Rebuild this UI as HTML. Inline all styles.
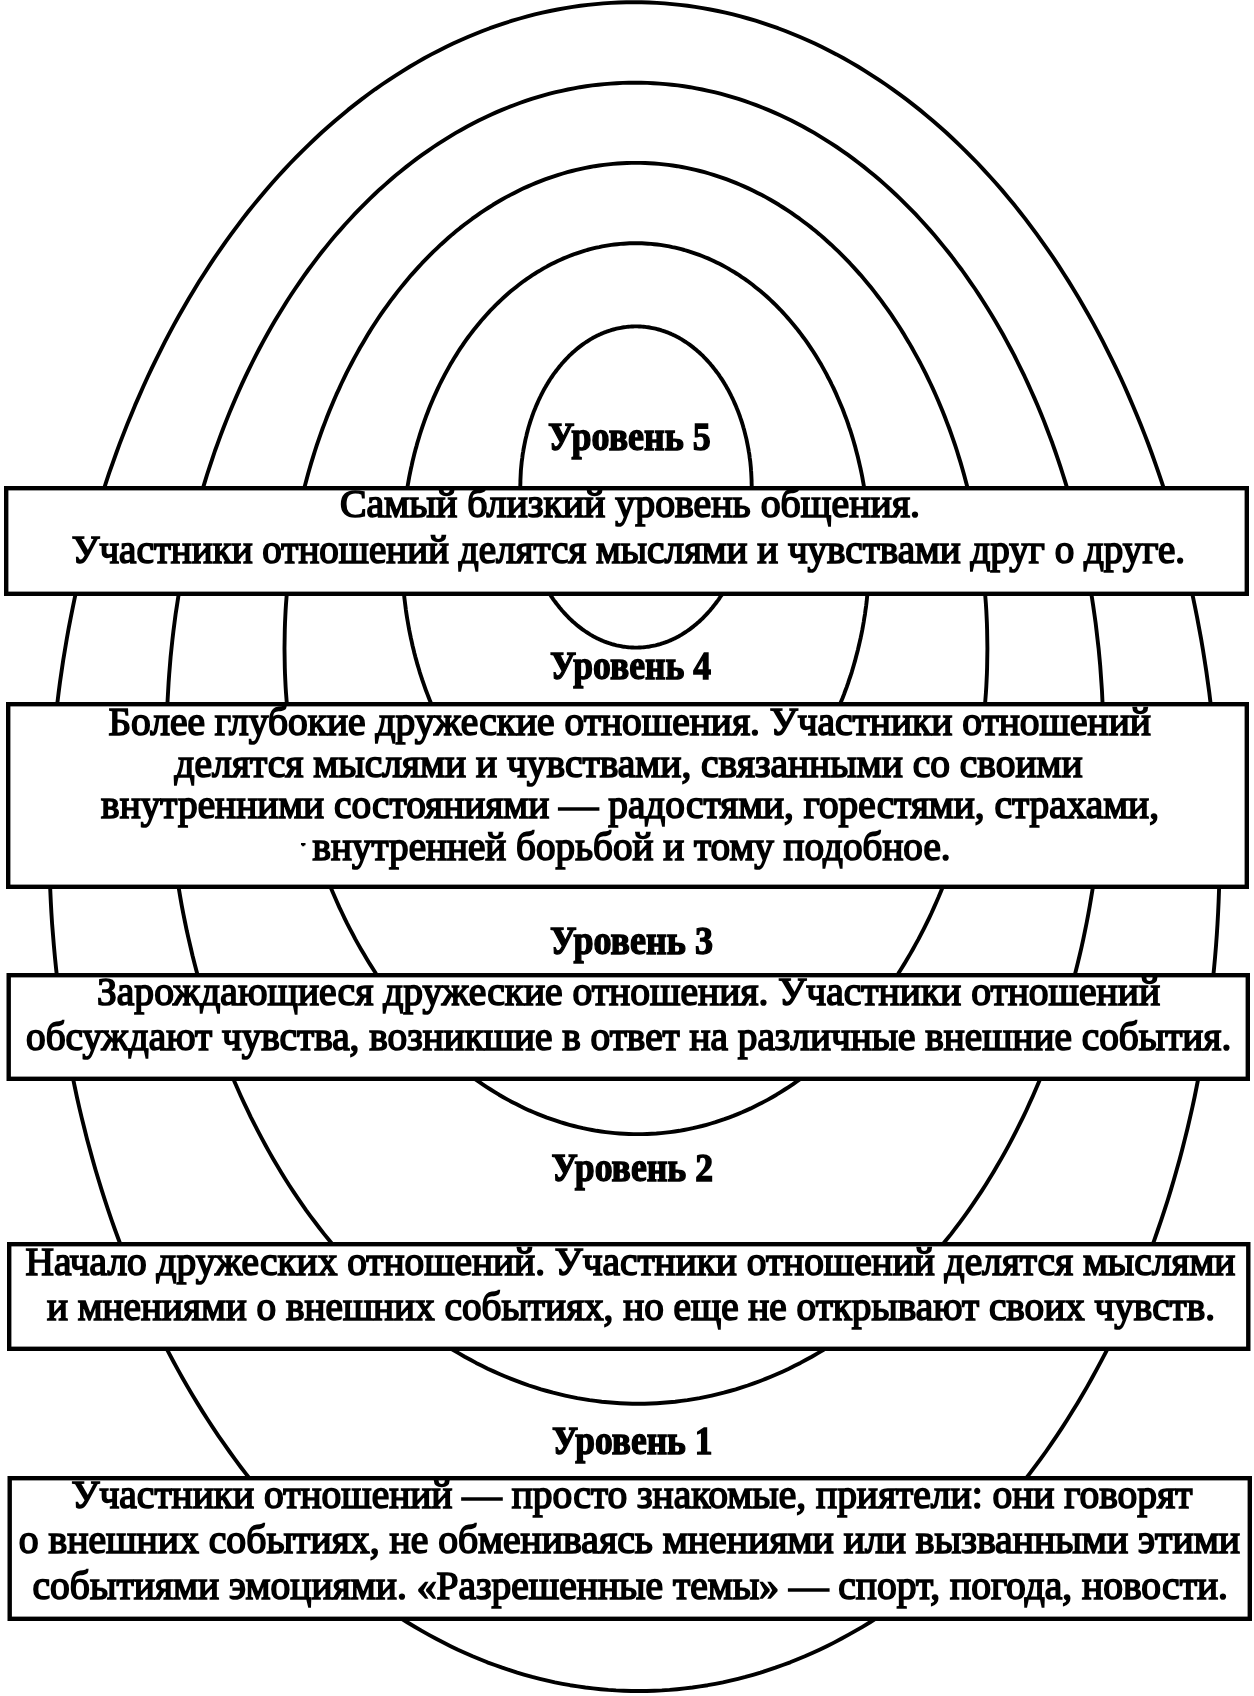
<!DOCTYPE html><html><head><meta charset="utf-8"><style>html,body{margin:0;padding:0;background:#fff;width:1254px;height:1696px;overflow:hidden}svg{display:block;will-change:transform}text{font-family:"Liberation Serif",serif;fill:#000}.r{font-size:40px;stroke:#000;stroke-width:1.7px}.b{font-size:40px;font-weight:bold;stroke:#000;stroke-width:1.4px}</style></head><body>
<svg width="1254" height="1696" viewBox="0 0 1254 1696">
<path d="M1219.5 846.6 L1219.6 857.7 L1219.5 868.7 L1219.3 879.8 L1219.0 890.8 L1218.6 901.9 L1218.1 912.9 L1217.5 923.9 L1216.8 934.9 L1216.0 945.9 L1215.1 956.9 L1214.1 967.8 L1213.0 978.7 L1211.9 989.6 L1210.6 1000.5 L1209.2 1011.4 L1207.7 1022.2 L1206.1 1033.0 L1204.4 1043.8 L1202.7 1054.5 L1200.8 1065.2 L1198.8 1075.8 L1196.7 1086.5 L1194.6 1097.0 L1192.3 1107.6 L1189.9 1118.1 L1187.5 1128.5 L1184.9 1138.9 L1182.3 1149.2 L1179.6 1159.5 L1176.7 1169.8 L1173.8 1180.0 L1170.8 1190.1 L1167.7 1200.2 L1164.5 1210.2 L1161.2 1220.1 L1157.8 1230.0 L1154.4 1239.8 L1150.8 1249.5 L1147.2 1259.2 L1143.4 1268.8 L1139.6 1278.4 L1135.7 1287.8 L1131.7 1297.2 L1127.6 1306.5 L1123.4 1315.8 L1119.2 1324.9 L1114.9 1334.0 L1110.5 1343.0 L1106.0 1351.9 L1101.4 1360.7 L1096.7 1369.4 L1092.0 1378.0 L1087.2 1386.6 L1082.3 1395.0 L1077.3 1403.4 L1072.3 1411.6 L1067.2 1419.8 L1062.0 1427.9 L1056.7 1435.8 L1051.4 1443.7 L1046.0 1451.5 L1040.5 1459.1 L1034.9 1466.7 L1029.3 1474.1 L1023.6 1481.5 L1017.9 1488.7 L1012.1 1495.8 L1006.2 1502.9 L1000.2 1509.8 L994.2 1516.5 L988.1 1523.2 L982.0 1529.8 L975.8 1536.2 L969.6 1542.5 L963.3 1548.7 L956.9 1554.8 L950.5 1560.8 L944.0 1566.6 L937.5 1572.3 L930.9 1577.9 L924.3 1583.4 L917.6 1588.7 L910.9 1593.9 L904.1 1599.0 L897.3 1604.0 L890.4 1608.8 L883.5 1613.5 L876.5 1618.0 L869.6 1622.5 L862.5 1626.8 L855.4 1630.9 L848.3 1634.9 L841.2 1638.8 L834.0 1642.6 L826.8 1646.2 L819.5 1649.7 L812.3 1653.0 L804.9 1656.3 L797.6 1659.3 L790.2 1662.3 L782.8 1665.0 L775.4 1667.7 L768.0 1670.2 L760.5 1672.6 L753.0 1674.8 L745.5 1676.9 L738.0 1678.8 L730.4 1680.6 L722.9 1682.3 L715.3 1683.8 L707.7 1685.2 L700.1 1686.4 L692.5 1687.5 L684.8 1688.4 L677.2 1689.2 L669.6 1689.9 L661.9 1690.4 L654.3 1690.7 L646.6 1691.0 L638.9 1691.0 L631.3 1691.0 L623.6 1690.7 L616.0 1690.4 L608.3 1689.9 L600.7 1689.2 L593.0 1688.4 L585.4 1687.5 L577.8 1686.4 L570.1 1685.2 L562.5 1683.8 L554.9 1682.3 L547.4 1680.6 L539.8 1678.8 L532.2 1676.9 L524.7 1674.8 L517.2 1672.6 L509.7 1670.2 L502.2 1667.7 L494.8 1665.0 L487.3 1662.3 L479.9 1659.3 L472.6 1656.3 L465.2 1653.0 L457.9 1649.7 L450.6 1646.2 L443.4 1642.6 L436.1 1638.8 L428.9 1634.9 L421.8 1630.9 L414.7 1626.8 L407.6 1622.5 L400.6 1618.0 L393.6 1613.5 L386.6 1608.8 L379.7 1604.0 L372.8 1599.0 L366.0 1593.9 L359.2 1588.7 L352.5 1583.4 L345.8 1577.9 L339.1 1572.3 L332.5 1566.6 L326.0 1560.8 L319.5 1554.8 L313.1 1548.7 L306.7 1542.5 L300.4 1536.2 L294.1 1529.8 L287.9 1523.2 L281.8 1516.5 L275.7 1509.8 L269.7 1502.9 L263.7 1495.8 L257.8 1488.7 L252.0 1481.5 L246.2 1474.1 L240.5 1466.7 L234.9 1459.1 L229.4 1451.5 L223.9 1443.7 L218.4 1435.8 L213.1 1427.9 L207.8 1419.8 L202.6 1411.6 L197.5 1403.4 L192.4 1395.0 L187.4 1386.6 L182.5 1378.0 L177.7 1369.4 L173.0 1360.7 L168.3 1351.9 L163.7 1343.0 L159.2 1334.0 L154.8 1324.9 L150.4 1315.8 L146.1 1306.5 L142.0 1297.2 L137.9 1287.8 L133.9 1278.4 L129.9 1268.8 L126.1 1259.2 L122.3 1249.5 L118.7 1239.8 L115.1 1230.0 L111.6 1220.1 L108.2 1210.2 L104.9 1200.2 L101.7 1190.1 L98.6 1180.0 L95.5 1169.8 L92.6 1159.5 L89.8 1149.2 L87.0 1138.9 L84.4 1128.5 L81.8 1118.1 L79.3 1107.6 L76.9 1097.0 L74.7 1086.5 L72.5 1075.8 L70.4 1065.2 L68.4 1054.5 L66.5 1043.8 L64.7 1033.0 L63.0 1022.2 L61.4 1011.4 L59.9 1000.5 L58.5 989.6 L57.2 978.7 L56.0 967.8 L54.9 956.9 L53.9 945.9 L53.0 934.9 L52.1 923.9 L51.4 912.9 L50.8 901.9 L50.3 890.8 L49.9 879.8 L49.6 868.7 L49.4 857.7 L49.3 846.6 L49.3 835.6 L49.4 824.5 L49.5 813.5 L49.8 802.4 L50.2 791.4 L50.7 780.4 L51.3 769.4 L52.0 758.4 L52.9 747.4 L53.8 736.4 L54.9 725.5 L56.0 714.5 L57.3 703.6 L58.6 692.8 L60.0 681.9 L61.6 671.1 L63.2 660.3 L65.0 649.5 L66.8 638.8 L68.7 628.1 L70.8 617.4 L72.9 606.8 L75.1 596.2 L77.4 585.7 L79.9 575.2 L82.4 564.8 L85.0 554.4 L87.7 544.0 L90.5 533.7 L93.3 523.5 L96.3 513.3 L99.4 503.2 L102.6 493.1 L105.8 483.1 L109.1 473.2 L112.6 463.3 L116.1 453.5 L119.7 443.7 L123.4 434.1 L127.2 424.4 L131.1 414.9 L135.0 405.4 L139.1 396.1 L143.2 386.8 L147.4 377.5 L151.7 368.4 L156.1 359.3 L160.6 350.3 L165.1 341.4 L169.7 332.6 L174.4 323.9 L179.2 315.2 L184.1 306.7 L189.0 298.3 L194.0 289.9 L199.1 281.6 L204.3 273.5 L209.5 265.4 L214.8 257.4 L220.2 249.6 L225.6 241.8 L231.2 234.1 L236.8 226.6 L242.4 219.1 L248.1 211.8 L253.9 204.6 L259.8 197.4 L265.7 190.4 L271.7 183.5 L277.7 176.7 L283.8 170.1 L290.0 163.5 L296.2 157.1 L302.5 150.8 L308.9 144.6 L315.3 138.5 L321.7 132.5 L328.2 126.7 L334.8 121.0 L341.4 115.4 L348.0 109.9 L354.7 104.6 L361.5 99.4 L368.3 94.3 L375.1 89.3 L382.0 84.5 L389.0 79.8 L395.9 75.3 L403.0 70.8 L410.0 66.5 L417.1 62.4 L424.2 58.3 L431.4 54.4 L438.6 50.7 L445.9 47.1 L453.1 43.6 L460.4 40.2 L467.8 37.0 L475.1 34.0 L482.5 31.0 L489.9 28.2 L497.3 25.6 L504.8 23.1 L512.3 20.7 L519.8 18.5 L527.3 16.4 L534.8 14.4 L542.4 12.6 L550.0 11.0 L557.6 9.5 L565.2 8.1 L572.8 6.9 L580.4 5.8 L588.0 4.9 L595.7 4.1 L603.3 3.4 L611.0 2.9 L618.6 2.5 L626.3 2.3 L633.9 2.2 L641.6 2.3 L649.3 2.5 L656.9 2.9 L664.6 3.4 L672.2 4.1 L679.8 4.9 L687.5 5.8 L695.1 6.9 L702.7 8.1 L710.3 9.5 L717.9 11.0 L725.5 12.6 L733.0 14.4 L740.6 16.4 L748.1 18.5 L755.6 20.7 L763.1 23.1 L770.5 25.6 L778.0 28.2 L785.4 31.0 L792.8 34.0 L800.1 37.0 L807.5 40.2 L814.8 43.6 L822.0 47.1 L829.3 50.7 L836.5 54.4 L843.6 58.3 L850.8 62.4 L857.9 66.5 L864.9 70.8 L871.9 75.3 L878.9 79.8 L885.8 84.5 L892.7 89.3 L899.6 94.3 L906.4 99.4 L913.1 104.6 L919.8 109.9 L926.5 115.4 L933.1 121.0 L939.7 126.7 L946.2 132.5 L952.6 138.5 L959.0 144.6 L965.4 150.8 L971.6 157.1 L977.9 163.5 L984.0 170.1 L990.1 176.7 L996.2 183.5 L1002.2 190.4 L1008.1 197.4 L1014.0 204.6 L1019.7 211.8 L1025.5 219.1 L1031.1 226.6 L1036.7 234.1 L1042.2 241.8 L1047.7 249.6 L1053.1 257.4 L1058.4 265.4 L1063.6 273.5 L1068.8 281.6 L1073.9 289.9 L1078.9 298.3 L1083.8 306.7 L1088.7 315.2 L1093.5 323.9 L1098.2 332.6 L1102.8 341.4 L1107.3 350.3 L1111.8 359.3 L1116.2 368.4 L1120.5 377.5 L1124.7 386.8 L1128.8 396.1 L1132.8 405.4 L1136.8 414.9 L1140.7 424.4 L1144.5 434.1 L1148.2 443.7 L1151.8 453.5 L1155.3 463.3 L1158.7 473.2 L1162.1 483.1 L1165.3 493.1 L1168.5 503.2 L1171.6 513.3 L1174.5 523.5 L1177.4 533.7 L1180.2 544.0 L1182.9 554.4 L1185.5 564.8 L1188.0 575.2 L1190.4 585.7 L1192.8 596.2 L1195.0 606.8 L1197.1 617.4 L1199.1 628.1 L1201.1 638.8 L1202.9 649.5 L1204.6 660.3 L1206.3 671.1 L1207.8 681.9 L1209.3 692.8 L1210.6 703.6 L1211.9 714.5 L1213.0 725.5 L1214.1 736.4 L1215.0 747.4 L1215.9 758.4 L1216.7 769.4 L1217.4 780.4 L1218.0 791.4 L1218.5 802.4 L1218.9 813.5 L1219.2 824.5 L1219.4 835.6Z" fill="none" stroke="#000" stroke-width="3.90" stroke-linejoin="round"/>
<path d="M1103.4 743.2 L1103.4 751.8 L1103.3 760.5 L1103.1 769.1 L1102.9 777.8 L1102.5 786.4 L1102.2 795.0 L1101.7 803.6 L1101.1 812.2 L1100.5 820.8 L1099.8 829.4 L1099.0 838.0 L1098.1 846.5 L1097.2 855.0 L1096.1 863.6 L1095.0 872.1 L1093.8 880.5 L1092.6 889.0 L1091.2 897.4 L1089.8 905.8 L1088.3 914.1 L1086.7 922.5 L1085.0 930.8 L1083.3 939.1 L1081.5 947.3 L1079.6 955.5 L1077.6 963.7 L1075.6 971.8 L1073.5 979.9 L1071.3 988.0 L1069.0 996.0 L1066.7 1003.9 L1064.3 1011.8 L1061.8 1019.7 L1059.2 1027.6 L1056.6 1035.3 L1053.9 1043.1 L1051.1 1050.7 L1048.3 1058.4 L1045.3 1065.9 L1042.3 1073.5 L1039.3 1080.9 L1036.2 1088.3 L1033.0 1095.7 L1029.7 1102.9 L1026.4 1110.2 L1023.0 1117.3 L1019.5 1124.4 L1016.0 1131.4 L1012.4 1138.4 L1008.7 1145.3 L1005.0 1152.1 L1001.2 1158.9 L997.3 1165.6 L993.4 1172.2 L989.4 1178.7 L985.4 1185.2 L981.3 1191.6 L977.1 1197.9 L972.9 1204.1 L968.6 1210.3 L964.3 1216.3 L959.9 1222.3 L955.5 1228.2 L951.0 1234.1 L946.4 1239.8 L941.8 1245.5 L937.2 1251.0 L932.5 1256.5 L927.7 1261.9 L922.9 1267.2 L918.0 1272.4 L913.1 1277.6 L908.2 1282.6 L903.2 1287.5 L898.1 1292.4 L893.0 1297.2 L887.9 1301.8 L882.7 1306.4 L877.5 1310.9 L872.2 1315.2 L866.9 1319.5 L861.5 1323.7 L856.2 1327.7 L850.7 1331.7 L845.3 1335.6 L839.8 1339.4 L834.2 1343.0 L828.7 1346.6 L823.1 1350.1 L817.5 1353.4 L811.8 1356.7 L806.1 1359.8 L800.4 1362.9 L794.6 1365.8 L788.9 1368.7 L783.0 1371.4 L777.2 1374.0 L771.4 1376.5 L765.5 1378.9 L759.6 1381.2 L753.7 1383.4 L747.7 1385.5 L741.8 1387.4 L735.8 1389.3 L729.8 1391.0 L723.8 1392.7 L717.8 1394.2 L711.7 1395.6 L705.7 1396.9 L699.6 1398.1 L693.5 1399.1 L687.4 1400.1 L681.3 1400.9 L675.2 1401.7 L669.1 1402.3 L663.0 1402.8 L656.9 1403.2 L650.7 1403.5 L644.6 1403.7 L638.5 1403.7 L632.4 1403.7 L626.2 1403.5 L620.1 1403.2 L614.0 1402.8 L607.8 1402.3 L601.7 1401.7 L595.6 1400.9 L589.5 1400.1 L583.4 1399.1 L577.3 1398.1 L571.2 1396.9 L565.2 1395.6 L559.1 1394.2 L553.1 1392.7 L547.0 1391.0 L541.0 1389.3 L535.0 1387.4 L529.0 1385.5 L523.1 1383.4 L517.1 1381.2 L511.2 1378.9 L505.3 1376.5 L499.4 1374.0 L493.6 1371.4 L487.7 1368.7 L481.9 1365.8 L476.1 1362.9 L470.4 1359.8 L464.7 1356.7 L459.0 1353.4 L453.3 1350.1 L447.7 1346.6 L442.1 1343.0 L436.5 1339.4 L431.0 1335.6 L425.5 1331.7 L420.0 1327.7 L414.6 1323.7 L409.2 1319.5 L403.8 1315.2 L398.5 1310.9 L393.2 1306.4 L388.0 1301.8 L382.8 1297.2 L377.7 1292.4 L372.6 1287.5 L367.5 1282.6 L362.5 1277.6 L357.5 1272.4 L352.6 1267.2 L347.7 1261.9 L342.9 1256.5 L338.2 1251.0 L333.4 1245.5 L328.8 1239.8 L324.2 1234.1 L319.6 1228.2 L315.1 1222.3 L310.6 1216.3 L306.2 1210.3 L301.9 1204.1 L297.6 1197.9 L293.4 1191.6 L289.2 1185.2 L285.1 1178.7 L281.1 1172.2 L277.1 1165.6 L273.2 1158.9 L269.3 1152.1 L265.5 1145.3 L261.8 1138.4 L258.1 1131.4 L254.5 1124.4 L250.9 1117.3 L247.5 1110.2 L244.0 1102.9 L240.7 1095.7 L237.4 1088.3 L234.2 1080.9 L231.1 1073.5 L228.0 1065.9 L225.0 1058.4 L222.1 1050.7 L219.2 1043.1 L216.4 1035.3 L213.7 1027.6 L211.1 1019.7 L208.5 1011.8 L206.0 1003.9 L203.6 996.0 L201.2 988.0 L198.9 979.9 L196.7 971.8 L194.6 963.7 L192.5 955.5 L190.6 947.3 L188.7 939.1 L186.8 930.8 L185.1 922.5 L183.4 914.1 L181.8 905.8 L180.3 897.4 L178.9 889.0 L177.5 880.5 L176.2 872.1 L175.0 863.6 L173.9 855.0 L172.9 846.5 L171.9 838.0 L171.0 829.4 L170.2 820.8 L169.5 812.2 L168.8 803.6 L168.3 795.0 L167.8 786.4 L167.4 777.8 L167.1 769.1 L166.8 760.5 L166.7 751.8 L166.6 743.2 L166.7 734.5 L166.8 725.9 L167.0 717.3 L167.3 708.6 L167.6 700.0 L168.1 691.4 L168.6 682.7 L169.2 674.1 L169.9 665.6 L170.6 657.0 L171.5 648.4 L172.4 639.9 L173.4 631.3 L174.5 622.8 L175.6 614.3 L176.9 605.9 L178.2 597.4 L179.6 589.0 L181.1 580.6 L182.6 572.2 L184.2 563.9 L185.9 555.6 L187.7 547.3 L189.6 539.1 L191.5 530.9 L193.5 522.7 L195.6 514.6 L197.7 506.5 L200.0 498.4 L202.3 490.4 L204.7 482.4 L207.1 474.5 L209.7 466.6 L212.3 458.8 L214.9 451.0 L217.7 443.3 L220.5 435.6 L223.4 428.0 L226.4 420.4 L229.4 412.9 L232.5 405.5 L235.7 398.1 L238.9 390.7 L242.2 383.4 L245.6 376.2 L249.0 369.1 L252.5 362.0 L256.1 354.9 L259.7 348.0 L263.4 341.1 L267.2 334.3 L271.0 327.5 L274.9 320.8 L278.9 314.2 L282.9 307.7 L286.9 301.2 L291.1 294.8 L295.3 288.5 L299.5 282.3 L303.8 276.1 L308.2 270.0 L312.6 264.1 L317.1 258.1 L321.6 252.3 L326.2 246.6 L330.8 240.9 L335.5 235.3 L340.3 229.9 L345.0 224.5 L349.9 219.2 L354.8 213.9 L359.7 208.8 L364.7 203.8 L369.7 198.8 L374.8 194.0 L379.9 189.2 L385.1 184.6 L390.3 180.0 L395.5 175.5 L400.8 171.2 L406.2 166.9 L411.5 162.7 L416.9 158.6 L422.4 154.7 L427.9 150.8 L433.4 147.0 L438.9 143.3 L444.5 139.8 L450.1 136.3 L455.8 132.9 L461.5 129.7 L467.2 126.5 L472.9 123.5 L478.7 120.5 L484.5 117.7 L490.3 115.0 L496.1 112.4 L502.0 109.9 L507.9 107.5 L513.8 105.2 L519.7 103.0 L525.7 100.9 L531.7 98.9 L537.6 97.1 L543.6 95.3 L549.7 93.7 L555.7 92.2 L561.8 90.8 L567.8 89.5 L573.9 88.3 L580.0 87.2 L586.1 86.3 L592.2 85.4 L598.3 84.7 L604.4 84.1 L610.5 83.6 L616.6 83.2 L622.8 82.9 L628.9 82.7 L635.0 82.7 L641.2 82.7 L647.3 82.9 L653.4 83.2 L659.5 83.6 L665.7 84.1 L671.8 84.7 L677.9 85.4 L684.0 86.3 L690.1 87.2 L696.2 88.3 L702.2 89.5 L708.3 90.8 L714.3 92.2 L720.4 93.7 L726.4 95.3 L732.4 97.1 L738.4 98.9 L744.4 100.9 L750.3 103.0 L756.2 105.2 L762.2 107.5 L768.1 109.9 L773.9 112.4 L779.8 115.0 L785.6 117.7 L791.4 120.5 L797.1 123.5 L802.9 126.5 L808.6 129.7 L814.3 132.9 L819.9 136.3 L825.5 139.8 L831.1 143.3 L836.7 147.0 L842.2 150.8 L847.7 154.7 L853.1 158.6 L858.5 162.7 L863.9 166.9 L869.2 171.2 L874.5 175.5 L879.8 180.0 L885.0 184.6 L890.1 189.2 L895.2 194.0 L900.3 198.8 L905.3 203.8 L910.3 208.8 L915.3 213.9 L920.2 219.2 L925.0 224.5 L929.8 229.9 L934.5 235.3 L939.2 240.9 L943.8 246.6 L948.4 252.3 L953.0 258.1 L957.4 264.1 L961.9 270.0 L966.2 276.1 L970.5 282.3 L974.8 288.5 L979.0 294.8 L983.1 301.2 L987.2 307.7 L991.2 314.2 L995.1 320.8 L999.0 327.5 L1002.9 334.3 L1006.6 341.1 L1010.3 348.0 L1014.0 354.9 L1017.5 362.0 L1021.0 369.1 L1024.5 376.2 L1027.8 383.4 L1031.1 390.7 L1034.4 398.1 L1037.6 405.5 L1040.7 412.9 L1043.7 420.4 L1046.6 428.0 L1049.5 435.6 L1052.4 443.3 L1055.1 451.0 L1057.8 458.8 L1060.4 466.6 L1062.9 474.5 L1065.4 482.4 L1067.8 490.4 L1070.1 498.4 L1072.3 506.5 L1074.5 514.6 L1076.5 522.7 L1078.5 530.9 L1080.5 539.1 L1082.3 547.3 L1084.1 555.6 L1085.8 563.9 L1087.4 572.2 L1089.0 580.6 L1090.5 589.0 L1091.9 597.4 L1093.2 605.9 L1094.4 614.3 L1095.6 622.8 L1096.6 631.3 L1097.6 639.9 L1098.6 648.4 L1099.4 657.0 L1100.2 665.6 L1100.8 674.1 L1101.4 682.7 L1102.0 691.4 L1102.4 700.0 L1102.8 708.6 L1103.0 717.3 L1103.2 725.9 L1103.4 734.5Z" fill="none" stroke="#000" stroke-width="3.90" stroke-linejoin="round"/>
<path d="M987.4 648.5 L987.3 654.9 L987.2 661.2 L987.1 667.6 L986.9 673.9 L986.6 680.3 L986.3 686.6 L985.9 692.9 L985.4 699.3 L984.9 705.6 L984.4 711.9 L983.7 718.2 L983.0 724.5 L982.3 730.7 L981.5 737.0 L980.6 743.2 L979.7 749.5 L978.7 755.7 L977.7 761.9 L976.6 768.0 L975.5 774.2 L974.3 780.3 L973.0 786.4 L971.7 792.5 L970.4 798.6 L969.0 804.6 L967.5 810.6 L966.0 816.6 L964.4 822.5 L962.7 828.5 L961.0 834.3 L959.3 840.2 L957.5 846.0 L955.6 851.8 L953.7 857.6 L951.7 863.3 L949.7 869.0 L947.6 874.6 L945.4 880.2 L943.2 885.8 L941.0 891.3 L938.7 896.8 L936.3 902.2 L933.9 907.6 L931.5 913.0 L929.0 918.3 L926.4 923.6 L923.8 928.8 L921.2 933.9 L918.5 939.1 L915.7 944.1 L912.9 949.2 L910.1 954.1 L907.2 959.0 L904.3 963.9 L901.3 968.7 L898.3 973.5 L895.2 978.1 L892.1 982.8 L888.9 987.4 L885.7 991.9 L882.4 996.4 L879.1 1000.8 L875.8 1005.1 L872.4 1009.4 L869.0 1013.6 L865.6 1017.8 L862.1 1021.9 L858.5 1025.9 L855.0 1029.9 L851.4 1033.8 L847.7 1037.6 L844.0 1041.4 L840.3 1045.1 L836.5 1048.7 L832.8 1052.3 L828.9 1055.8 L825.1 1059.2 L821.2 1062.6 L817.3 1065.9 L813.3 1069.1 L809.3 1072.2 L805.3 1075.3 L801.3 1078.3 L797.2 1081.2 L793.1 1084.1 L789.0 1086.8 L784.8 1089.5 L780.7 1092.1 L776.5 1094.7 L772.2 1097.2 L768.0 1099.6 L763.7 1101.9 L759.4 1104.1 L755.1 1106.3 L750.8 1108.4 L746.4 1110.4 L742.1 1112.3 L737.7 1114.1 L733.3 1115.9 L728.8 1117.6 L724.4 1119.2 L719.9 1120.7 L715.5 1122.2 L711.0 1123.5 L706.5 1124.8 L702.0 1126.0 L697.4 1127.1 L692.9 1128.2 L688.4 1129.1 L683.8 1130.0 L679.3 1130.8 L674.7 1131.5 L670.1 1132.1 L665.5 1132.6 L660.9 1133.1 L656.4 1133.5 L651.8 1133.8 L647.2 1134.0 L642.6 1134.1 L638.0 1134.1 L633.4 1134.1 L628.8 1134.0 L624.2 1133.8 L619.6 1133.5 L615.0 1133.1 L610.4 1132.6 L605.8 1132.1 L601.2 1131.5 L596.6 1130.8 L592.1 1130.0 L587.5 1129.1 L583.0 1128.2 L578.4 1127.1 L573.9 1126.0 L569.4 1124.8 L564.8 1123.5 L560.3 1122.2 L555.9 1120.7 L551.4 1119.2 L546.9 1117.6 L542.5 1115.9 L538.0 1114.1 L533.6 1112.3 L529.2 1110.4 L524.9 1108.4 L520.5 1106.3 L516.2 1104.1 L511.9 1101.9 L507.6 1099.6 L503.3 1097.2 L499.0 1094.7 L494.8 1092.1 L490.6 1089.5 L486.4 1086.8 L482.3 1084.1 L478.1 1081.2 L474.0 1078.3 L470.0 1075.3 L465.9 1072.2 L461.9 1069.1 L457.9 1065.9 L454.0 1062.6 L450.0 1059.2 L446.1 1055.8 L442.3 1052.3 L438.5 1048.7 L434.7 1045.1 L430.9 1041.4 L427.2 1037.6 L423.5 1033.8 L419.8 1029.9 L416.2 1025.9 L412.7 1021.9 L409.1 1017.8 L405.6 1013.6 L402.2 1009.4 L398.7 1005.1 L395.3 1000.8 L392.0 996.4 L388.7 991.9 L385.5 987.4 L382.2 982.8 L379.1 978.1 L375.9 973.5 L372.9 968.7 L369.8 963.9 L366.8 959.0 L363.9 954.1 L361.0 949.2 L358.1 944.1 L355.3 939.1 L352.6 933.9 L349.9 928.8 L347.2 923.6 L344.6 918.3 L342.1 913.0 L339.5 907.6 L337.1 902.2 L334.7 896.8 L332.3 891.3 L330.0 885.8 L327.8 880.2 L325.6 874.6 L323.4 869.0 L321.3 863.3 L319.3 857.6 L317.3 851.8 L315.4 846.0 L313.5 840.2 L311.7 834.3 L309.9 828.5 L308.2 822.5 L306.6 816.6 L305.0 810.6 L303.4 804.6 L301.9 798.6 L300.5 792.5 L299.2 786.4 L297.8 780.3 L296.6 774.2 L295.4 768.0 L294.3 761.9 L293.2 755.7 L292.2 749.5 L291.3 743.2 L290.4 737.0 L289.6 730.7 L288.9 724.5 L288.2 718.2 L287.5 711.9 L287.0 705.6 L286.5 699.3 L286.0 692.9 L285.6 686.6 L285.3 680.3 L285.0 673.9 L284.8 667.6 L284.7 661.2 L284.6 654.9 L284.5 648.5 L284.6 642.1 L284.7 635.8 L284.8 629.4 L285.0 623.1 L285.3 616.7 L285.6 610.4 L286.0 604.1 L286.5 597.7 L287.0 591.4 L287.5 585.1 L288.2 578.8 L288.9 572.5 L289.6 566.3 L290.4 560.0 L291.3 553.8 L292.2 547.5 L293.2 541.3 L294.2 535.1 L295.3 529.0 L296.5 522.8 L297.7 516.7 L299.0 510.6 L300.3 504.5 L301.7 498.4 L303.2 492.4 L304.7 486.4 L306.3 480.4 L307.9 474.5 L309.6 468.5 L311.3 462.6 L313.1 456.8 L314.9 451.0 L316.8 445.2 L318.8 439.4 L320.8 433.7 L322.8 428.0 L325.0 422.4 L327.1 416.8 L329.3 411.2 L331.6 405.7 L333.9 400.2 L336.3 394.7 L338.8 389.4 L341.2 384.0 L343.8 378.7 L346.3 373.4 L349.0 368.2 L351.7 363.0 L354.4 357.9 L357.2 352.9 L360.0 347.8 L362.9 342.9 L365.8 338.0 L368.7 333.1 L371.7 328.3 L374.8 323.5 L377.9 318.8 L381.0 314.2 L384.2 309.6 L387.5 305.1 L390.7 300.6 L394.1 296.2 L397.4 291.9 L400.8 287.6 L404.2 283.4 L407.7 279.2 L411.2 275.1 L414.8 271.1 L418.4 267.1 L422.0 263.2 L425.7 259.4 L429.4 255.6 L433.1 251.9 L436.9 248.3 L440.7 244.7 L444.6 241.2 L448.4 237.8 L452.3 234.4 L456.3 231.1 L460.2 227.9 L464.2 224.8 L468.3 221.7 L472.3 218.7 L476.4 215.8 L480.5 212.9 L484.7 210.2 L488.8 207.5 L493.0 204.8 L497.2 202.3 L501.5 199.8 L505.7 197.4 L510.0 195.1 L514.3 192.9 L518.6 190.7 L523.0 188.6 L527.4 186.6 L531.7 184.7 L536.1 182.9 L540.6 181.1 L545.0 179.4 L549.4 177.8 L553.9 176.3 L558.4 174.8 L562.9 173.5 L567.4 172.2 L571.9 171.0 L576.4 169.9 L581.0 168.8 L585.5 167.9 L590.1 167.0 L594.6 166.2 L599.2 165.5 L603.8 164.9 L608.4 164.4 L613.0 163.9 L617.6 163.5 L622.2 163.2 L626.8 163.0 L631.4 162.9 L636.0 162.9 L640.6 162.9 L645.2 163.0 L649.7 163.2 L654.3 163.5 L658.9 163.9 L663.5 164.4 L668.1 164.9 L672.7 165.5 L677.3 166.2 L681.8 167.0 L686.4 167.9 L690.9 168.8 L695.5 169.9 L700.0 171.0 L704.5 172.2 L709.0 173.5 L713.5 174.8 L718.0 176.3 L722.5 177.8 L726.9 179.4 L731.3 181.1 L735.8 182.9 L740.2 184.7 L744.5 186.6 L748.9 188.6 L753.3 190.7 L757.6 192.9 L761.9 195.1 L766.2 197.4 L770.4 199.8 L774.7 202.3 L778.9 204.8 L783.1 207.5 L787.2 210.2 L791.4 212.9 L795.5 215.8 L799.6 218.7 L803.6 221.7 L807.7 224.8 L811.7 227.9 L815.6 231.1 L819.6 234.4 L823.5 237.8 L827.3 241.2 L831.2 244.7 L835.0 248.3 L838.8 251.9 L842.5 255.6 L846.2 259.4 L849.9 263.2 L853.5 267.1 L857.1 271.1 L860.7 275.1 L864.2 279.2 L867.7 283.4 L871.1 287.6 L874.5 291.9 L877.8 296.2 L881.2 300.6 L884.4 305.1 L887.7 309.6 L890.9 314.2 L894.0 318.8 L897.1 323.5 L900.2 328.3 L903.2 333.1 L906.1 338.0 L909.1 342.9 L911.9 347.8 L914.7 352.9 L917.5 357.9 L920.3 363.0 L922.9 368.2 L925.6 373.4 L928.1 378.7 L930.7 384.0 L933.2 389.4 L935.6 394.7 L938.0 400.2 L940.3 405.7 L942.6 411.2 L944.8 416.8 L946.9 422.4 L949.1 428.0 L951.1 433.7 L953.1 439.4 L955.1 445.2 L957.0 451.0 L958.8 456.8 L960.6 462.6 L962.3 468.5 L964.0 474.5 L965.6 480.4 L967.2 486.4 L968.7 492.4 L970.2 498.4 L971.6 504.5 L972.9 510.6 L974.2 516.7 L975.4 522.8 L976.6 529.0 L977.7 535.1 L978.7 541.3 L979.7 547.5 L980.6 553.8 L981.5 560.0 L982.3 566.3 L983.0 572.5 L983.7 578.8 L984.4 585.1 L984.9 591.4 L985.4 597.7 L985.9 604.1 L986.3 610.4 L986.6 616.7 L986.9 623.1 L987.1 629.4 L987.2 635.8 L987.3 642.1Z" fill="none" stroke="#000" stroke-width="3.90" stroke-linejoin="round"/>
<path d="M869.4 553.5 L869.4 557.6 L869.4 561.6 L869.3 565.7 L869.1 569.8 L868.9 573.8 L868.7 577.9 L868.5 581.9 L868.2 586.0 L867.8 590.0 L867.4 594.0 L867.0 598.0 L866.6 602.1 L866.1 606.1 L865.5 610.1 L865.0 614.1 L864.3 618.0 L863.7 622.0 L863.0 626.0 L862.3 629.9 L861.5 633.8 L860.7 637.7 L859.8 641.6 L858.9 645.5 L858.0 649.4 L857.0 653.3 L856.0 657.1 L855.0 660.9 L853.9 664.7 L852.8 668.5 L851.7 672.3 L850.5 676.0 L849.2 679.7 L848.0 683.4 L846.7 687.1 L845.3 690.8 L844.0 694.4 L842.6 698.0 L841.1 701.6 L839.6 705.1 L838.1 708.7 L836.6 712.2 L835.0 715.6 L833.4 719.1 L831.7 722.5 L830.1 725.9 L828.3 729.3 L826.6 732.6 L824.8 735.9 L823.0 739.2 L821.2 742.4 L819.3 745.6 L817.4 748.8 L815.4 751.9 L813.5 755.0 L811.4 758.1 L809.4 761.1 L807.4 764.1 L805.3 767.1 L803.2 770.0 L801.1 772.9 L798.9 775.8 L796.7 778.6 L794.5 781.4 L792.3 784.1 L790.0 786.8 L787.7 789.5 L785.4 792.1 L783.0 794.7 L780.6 797.2 L778.2 799.7 L775.8 802.1 L773.3 804.5 L770.9 806.9 L768.4 809.2 L765.9 811.5 L763.3 813.7 L760.8 815.9 L758.2 818.1 L755.6 820.2 L752.9 822.2 L750.3 824.2 L747.6 826.2 L744.9 828.1 L742.2 830.0 L739.5 831.8 L736.7 833.6 L734.0 835.3 L731.2 837.0 L728.4 838.6 L725.6 840.2 L722.8 841.7 L719.9 843.2 L717.1 844.6 L714.2 846.0 L711.3 847.3 L708.4 848.6 L705.5 849.9 L702.6 851.0 L699.7 852.2 L696.7 853.2 L693.8 854.3 L690.8 855.2 L687.8 856.2 L684.9 857.0 L681.9 857.8 L678.9 858.6 L675.9 859.3 L672.8 860.0 L669.8 860.6 L666.8 861.2 L663.8 861.7 L660.7 862.1 L657.7 862.5 L654.6 862.9 L651.6 863.1 L648.5 863.4 L645.5 863.6 L642.4 863.7 L639.4 863.8 L636.3 863.8 L633.2 863.8 L630.2 863.7 L627.1 863.6 L624.1 863.4 L621.0 863.1 L618.0 862.9 L614.9 862.5 L611.9 862.1 L608.8 861.7 L605.8 861.2 L602.7 860.6 L599.7 860.0 L596.7 859.3 L593.7 858.6 L590.7 857.8 L587.7 857.0 L584.7 856.2 L581.7 855.2 L578.7 854.3 L575.8 853.2 L572.8 852.2 L569.9 851.0 L566.9 849.9 L564.0 848.6 L561.1 847.3 L558.2 846.0 L555.3 844.6 L552.4 843.2 L549.6 841.7 L546.7 840.2 L543.9 838.6 L541.1 837.0 L538.3 835.3 L535.5 833.6 L532.8 831.8 L530.0 830.0 L527.3 828.1 L524.6 826.2 L521.9 824.2 L519.2 822.2 L516.6 820.2 L513.9 818.1 L511.3 815.9 L508.7 813.7 L506.2 811.5 L503.6 809.2 L501.1 806.9 L498.6 804.5 L496.1 802.1 L493.7 799.7 L491.3 797.2 L488.8 794.7 L486.5 792.1 L484.1 789.5 L481.8 786.8 L479.5 784.1 L477.2 781.4 L475.0 778.6 L472.7 775.8 L470.6 772.9 L468.4 770.0 L466.3 767.1 L464.1 764.1 L462.1 761.1 L460.0 758.1 L458.0 755.0 L456.1 751.9 L454.1 748.8 L452.2 745.6 L450.3 742.4 L448.5 739.2 L446.7 735.9 L444.9 732.6 L443.1 729.3 L441.4 725.9 L439.7 722.5 L438.1 719.1 L436.5 715.6 L434.9 712.2 L433.3 708.7 L431.8 705.1 L430.3 701.6 L428.9 698.0 L427.5 694.4 L426.1 690.8 L424.8 687.1 L423.5 683.4 L422.2 679.7 L421.0 676.0 L419.8 672.3 L418.7 668.5 L417.5 664.7 L416.5 660.9 L415.4 657.1 L414.4 653.3 L413.5 649.4 L412.5 645.5 L411.7 641.6 L410.8 637.7 L410.0 633.8 L409.2 629.9 L408.5 626.0 L407.8 622.0 L407.1 618.0 L406.5 614.1 L405.9 610.1 L405.4 606.1 L404.9 602.1 L404.4 598.0 L404.0 594.0 L403.6 590.0 L403.3 586.0 L403.0 581.9 L402.7 577.9 L402.5 573.8 L402.3 569.8 L402.2 565.7 L402.1 561.6 L402.0 557.6 L402.0 553.5 L402.0 549.5 L402.1 545.4 L402.2 541.3 L402.3 537.3 L402.5 533.2 L402.7 529.2 L403.0 525.1 L403.3 521.1 L403.6 517.1 L404.0 513.0 L404.4 509.0 L404.9 505.0 L405.4 501.0 L405.9 497.0 L406.5 493.0 L407.1 489.0 L407.8 485.0 L408.5 481.1 L409.2 477.1 L410.0 473.2 L410.8 469.3 L411.7 465.4 L412.5 461.5 L413.5 457.6 L414.4 453.8 L415.4 449.9 L416.5 446.1 L417.5 442.3 L418.7 438.5 L419.8 434.8 L421.0 431.0 L422.2 427.3 L423.5 423.6 L424.8 419.9 L426.1 416.3 L427.5 412.7 L428.9 409.0 L430.3 405.5 L431.8 401.9 L433.3 398.4 L434.9 394.9 L436.5 391.4 L438.1 387.9 L439.7 384.5 L441.4 381.1 L443.1 377.8 L444.9 374.4 L446.7 371.1 L448.5 367.9 L450.3 364.6 L452.2 361.4 L454.1 358.3 L456.1 355.1 L458.0 352.0 L460.0 348.9 L462.1 345.9 L464.1 342.9 L466.2 339.9 L468.3 337.0 L470.5 334.1 L472.7 331.3 L474.9 328.4 L477.1 325.7 L479.4 322.9 L481.6 320.2 L484.0 317.6 L486.3 315.0 L488.7 312.4 L491.0 309.8 L493.5 307.4 L495.9 304.9 L498.4 302.5 L500.9 300.1 L503.4 297.8 L505.9 295.5 L508.4 293.3 L511.0 291.1 L513.6 289.0 L516.2 286.9 L518.9 284.8 L521.5 282.8 L524.2 280.8 L526.9 278.9 L529.6 277.1 L532.4 275.2 L535.1 273.5 L537.9 271.7 L540.7 270.1 L543.5 268.4 L546.3 266.9 L549.1 265.3 L552.0 263.8 L554.8 262.4 L557.7 261.0 L560.6 259.7 L563.5 258.4 L566.4 257.2 L569.4 256.0 L572.3 254.9 L575.2 253.8 L578.2 252.8 L581.2 251.8 L584.2 250.9 L587.1 250.0 L590.1 249.2 L593.1 248.4 L596.2 247.7 L599.2 247.1 L602.2 246.4 L605.2 245.9 L608.3 245.4 L611.3 244.9 L614.4 244.5 L617.4 244.2 L620.5 243.9 L623.5 243.7 L626.6 243.5 L629.6 243.3 L632.7 243.3 L635.7 243.2 L638.8 243.3 L641.9 243.3 L644.9 243.5 L648.0 243.7 L651.0 243.9 L654.1 244.2 L657.1 244.5 L660.2 244.9 L663.2 245.4 L666.2 245.9 L669.3 246.4 L672.3 247.1 L675.3 247.7 L678.3 248.4 L681.3 249.2 L684.3 250.0 L687.3 250.9 L690.3 251.8 L693.3 252.8 L696.2 253.8 L699.2 254.9 L702.1 256.0 L705.0 257.2 L708.0 258.4 L710.9 259.7 L713.7 261.0 L716.6 262.4 L719.5 263.8 L722.3 265.3 L725.2 266.9 L728.0 268.4 L730.8 270.1 L733.6 271.7 L736.4 273.5 L739.1 275.2 L741.8 277.1 L744.6 278.9 L747.3 280.8 L749.9 282.8 L752.6 284.8 L755.2 286.9 L757.8 289.0 L760.4 291.1 L763.0 293.3 L765.6 295.5 L768.1 297.8 L770.6 300.1 L773.1 302.5 L775.6 304.9 L778.0 307.4 L780.4 309.8 L782.8 312.4 L785.2 315.0 L787.5 317.6 L789.8 320.2 L792.1 322.9 L794.4 325.7 L796.6 328.4 L798.8 331.3 L801.0 334.1 L803.1 337.0 L805.3 339.9 L807.4 342.9 L809.4 345.9 L811.4 348.9 L813.5 352.0 L815.4 355.1 L817.4 358.3 L819.3 361.4 L821.2 364.6 L823.0 367.9 L824.8 371.1 L826.6 374.4 L828.3 377.8 L830.1 381.1 L831.7 384.5 L833.4 387.9 L835.0 391.4 L836.6 394.9 L838.1 398.4 L839.6 401.9 L841.1 405.5 L842.6 409.0 L844.0 412.7 L845.3 416.3 L846.7 419.9 L848.0 423.6 L849.2 427.3 L850.5 431.0 L851.7 434.8 L852.8 438.5 L853.9 442.3 L855.0 446.1 L856.0 449.9 L857.0 453.8 L858.0 457.6 L858.9 461.5 L859.8 465.4 L860.7 469.3 L861.5 473.2 L862.3 477.1 L863.0 481.1 L863.7 485.0 L864.3 489.0 L865.0 493.0 L865.5 497.0 L866.1 501.0 L866.6 505.0 L867.0 509.0 L867.4 513.0 L867.8 517.1 L868.2 521.1 L868.5 525.1 L868.7 529.2 L868.9 533.2 L869.1 537.3 L869.3 541.3 L869.4 545.4 L869.4 549.5Z" fill="none" stroke="#000" stroke-width="3.90" stroke-linejoin="round"/>
<path d="M751.7 487.0 L751.7 489.1 L751.6 491.2 L751.6 493.3 L751.5 495.4 L751.4 497.5 L751.3 499.6 L751.2 501.7 L751.0 503.8 L750.9 505.9 L750.7 508.0 L750.5 510.0 L750.3 512.1 L750.0 514.2 L749.7 516.3 L749.5 518.3 L749.2 520.4 L748.8 522.4 L748.5 524.5 L748.1 526.5 L747.7 528.6 L747.3 530.6 L746.9 532.6 L746.5 534.6 L746.0 536.6 L745.5 538.6 L745.0 540.6 L744.5 542.6 L744.0 544.6 L743.4 546.5 L742.9 548.5 L742.3 550.4 L741.7 552.3 L741.1 554.2 L740.4 556.1 L739.8 558.0 L739.1 559.9 L738.4 561.8 L737.7 563.6 L736.9 565.5 L736.2 567.3 L735.4 569.1 L734.6 570.9 L733.8 572.7 L733.0 574.5 L732.2 576.2 L731.3 578.0 L730.5 579.7 L729.6 581.4 L728.7 583.1 L727.8 584.8 L726.8 586.4 L725.9 588.1 L724.9 589.7 L724.0 591.3 L723.0 592.9 L722.0 594.5 L720.9 596.0 L719.9 597.5 L718.9 599.1 L717.8 600.6 L716.7 602.0 L715.6 603.5 L714.5 604.9 L713.4 606.3 L712.3 607.7 L711.1 609.1 L710.0 610.5 L708.8 611.8 L707.6 613.1 L706.4 614.4 L705.2 615.7 L704.0 616.9 L702.8 618.2 L701.5 619.4 L700.3 620.5 L699.0 621.7 L697.7 622.8 L696.4 623.9 L695.1 625.0 L693.8 626.1 L692.5 627.1 L691.2 628.1 L689.9 629.1 L688.5 630.1 L687.2 631.0 L685.8 632.0 L684.4 632.8 L683.1 633.7 L681.7 634.6 L680.3 635.4 L678.9 636.2 L677.5 636.9 L676.0 637.7 L674.6 638.4 L673.2 639.1 L671.7 639.7 L670.3 640.4 L668.9 641.0 L667.4 641.6 L665.9 642.1 L664.5 642.7 L663.0 643.2 L661.5 643.6 L660.1 644.1 L658.6 644.5 L657.1 644.9 L655.6 645.3 L654.1 645.6 L652.6 645.9 L651.1 646.2 L649.6 646.5 L648.1 646.7 L646.6 646.9 L645.1 647.1 L643.6 647.3 L642.1 647.4 L640.5 647.5 L639.0 647.5 L637.5 647.6 L636.0 647.6 L634.5 647.6 L633.0 647.5 L631.5 647.5 L629.9 647.4 L628.4 647.3 L626.9 647.1 L625.4 646.9 L623.9 646.7 L622.4 646.5 L620.9 646.2 L619.4 645.9 L617.9 645.6 L616.4 645.3 L614.9 644.9 L613.4 644.5 L611.9 644.1 L610.5 643.6 L609.0 643.2 L607.5 642.7 L606.1 642.1 L604.6 641.6 L603.1 641.0 L601.7 640.4 L600.3 639.7 L598.8 639.1 L597.4 638.4 L596.0 637.7 L594.5 636.9 L593.1 636.2 L591.7 635.4 L590.3 634.6 L588.9 633.7 L587.6 632.8 L586.2 632.0 L584.8 631.0 L583.5 630.1 L582.1 629.1 L580.8 628.1 L579.5 627.1 L578.2 626.1 L576.8 625.0 L575.6 623.9 L574.3 622.8 L573.0 621.7 L571.7 620.5 L570.5 619.4 L569.2 618.2 L568.0 616.9 L566.8 615.7 L565.6 614.4 L564.4 613.1 L563.2 611.8 L562.0 610.5 L560.9 609.1 L559.7 607.7 L558.6 606.3 L557.5 604.9 L556.4 603.5 L555.3 602.0 L554.2 600.6 L553.1 599.1 L552.1 597.5 L551.0 596.0 L550.0 594.5 L549.0 592.9 L548.0 591.3 L547.1 589.7 L546.1 588.1 L545.1 586.4 L544.2 584.8 L543.3 583.1 L542.4 581.4 L541.5 579.7 L540.7 578.0 L539.8 576.2 L539.0 574.5 L538.2 572.7 L537.4 570.9 L536.6 569.1 L535.8 567.3 L535.1 565.5 L534.3 563.6 L533.6 561.8 L532.9 559.9 L532.2 558.0 L531.6 556.1 L530.9 554.2 L530.3 552.3 L529.7 550.4 L529.1 548.5 L528.5 546.5 L528.0 544.6 L527.5 542.6 L526.9 540.6 L526.5 538.6 L526.0 536.6 L525.5 534.6 L525.1 532.6 L524.7 530.6 L524.3 528.6 L523.9 526.5 L523.5 524.5 L523.2 522.4 L522.8 520.4 L522.5 518.3 L522.3 516.3 L522.0 514.2 L521.7 512.1 L521.5 510.0 L521.3 508.0 L521.1 505.9 L520.9 503.8 L520.8 501.7 L520.7 499.6 L520.6 497.5 L520.5 495.4 L520.4 493.3 L520.4 491.2 L520.3 489.1 L520.3 487.0 L520.3 484.9 L520.4 482.8 L520.4 480.7 L520.5 478.6 L520.6 476.5 L520.7 474.4 L520.8 472.3 L520.9 470.2 L521.1 468.1 L521.3 466.0 L521.5 464.0 L521.7 461.9 L522.0 459.8 L522.3 457.7 L522.5 455.7 L522.8 453.6 L523.2 451.6 L523.5 449.5 L523.9 447.5 L524.3 445.4 L524.7 443.4 L525.1 441.4 L525.5 439.4 L526.0 437.4 L526.5 435.4 L526.9 433.4 L527.5 431.4 L528.0 429.4 L528.5 427.5 L529.1 425.5 L529.7 423.6 L530.3 421.7 L530.9 419.8 L531.6 417.9 L532.2 416.0 L532.9 414.1 L533.6 412.2 L534.3 410.4 L535.1 408.5 L535.8 406.7 L536.6 404.9 L537.4 403.1 L538.2 401.3 L539.0 399.5 L539.8 397.8 L540.7 396.0 L541.5 394.3 L542.4 392.6 L543.3 390.9 L544.2 389.2 L545.1 387.6 L546.1 385.9 L547.1 384.3 L548.0 382.7 L549.0 381.1 L550.0 379.5 L551.0 378.0 L552.1 376.5 L553.1 374.9 L554.2 373.4 L555.3 372.0 L556.4 370.5 L557.5 369.1 L558.6 367.7 L559.7 366.3 L560.9 364.9 L562.0 363.5 L563.2 362.2 L564.4 360.9 L565.6 359.6 L566.8 358.3 L568.0 357.1 L569.2 355.8 L570.5 354.6 L571.7 353.5 L573.0 352.3 L574.3 351.2 L575.6 350.1 L576.8 349.0 L578.2 347.9 L579.5 346.9 L580.8 345.9 L582.1 344.9 L583.5 343.9 L584.8 343.0 L586.2 342.0 L587.6 341.2 L588.9 340.3 L590.3 339.4 L591.7 338.6 L593.1 337.8 L594.5 337.1 L596.0 336.3 L597.4 335.6 L598.8 334.9 L600.3 334.3 L601.7 333.6 L603.1 333.0 L604.6 332.4 L606.1 331.9 L607.5 331.3 L609.0 330.8 L610.5 330.4 L611.9 329.9 L613.4 329.5 L614.9 329.1 L616.4 328.7 L617.9 328.4 L619.4 328.1 L620.9 327.8 L622.4 327.5 L623.9 327.3 L625.4 327.1 L626.9 326.9 L628.4 326.7 L629.9 326.6 L631.5 326.5 L633.0 326.5 L634.5 326.4 L636.0 326.4 L637.5 326.4 L639.0 326.5 L640.5 326.5 L642.1 326.6 L643.6 326.7 L645.1 326.9 L646.6 327.1 L648.1 327.3 L649.6 327.5 L651.1 327.8 L652.6 328.1 L654.1 328.4 L655.6 328.7 L657.1 329.1 L658.6 329.5 L660.1 329.9 L661.5 330.4 L663.0 330.8 L664.5 331.3 L665.9 331.9 L667.4 332.4 L668.9 333.0 L670.3 333.6 L671.7 334.3 L673.2 334.9 L674.6 335.6 L676.0 336.3 L677.5 337.1 L678.9 337.8 L680.3 338.6 L681.7 339.4 L683.1 340.3 L684.4 341.2 L685.8 342.0 L687.2 343.0 L688.5 343.9 L689.9 344.9 L691.2 345.9 L692.5 346.9 L693.8 347.9 L695.1 349.0 L696.4 350.1 L697.7 351.2 L699.0 352.3 L700.3 353.5 L701.5 354.6 L702.8 355.8 L704.0 357.1 L705.2 358.3 L706.4 359.6 L707.6 360.9 L708.8 362.2 L710.0 363.5 L711.1 364.9 L712.3 366.3 L713.4 367.7 L714.5 369.1 L715.6 370.5 L716.7 372.0 L717.8 373.4 L718.9 374.9 L719.9 376.5 L720.9 378.0 L722.0 379.5 L723.0 381.1 L724.0 382.7 L724.9 384.3 L725.9 385.9 L726.8 387.6 L727.8 389.2 L728.7 390.9 L729.6 392.6 L730.5 394.3 L731.3 396.0 L732.2 397.8 L733.0 399.5 L733.8 401.3 L734.6 403.1 L735.4 404.9 L736.2 406.7 L736.9 408.5 L737.7 410.4 L738.4 412.2 L739.1 414.1 L739.8 416.0 L740.4 417.9 L741.1 419.8 L741.7 421.7 L742.3 423.6 L742.9 425.5 L743.4 427.5 L744.0 429.4 L744.5 431.4 L745.0 433.4 L745.5 435.4 L746.0 437.4 L746.5 439.4 L746.9 441.4 L747.3 443.4 L747.7 445.4 L748.1 447.5 L748.5 449.5 L748.8 451.6 L749.2 453.6 L749.5 455.7 L749.7 457.7 L750.0 459.8 L750.3 461.9 L750.5 464.0 L750.7 466.0 L750.9 468.1 L751.0 470.2 L751.2 472.3 L751.3 474.4 L751.4 476.5 L751.5 478.6 L751.6 480.7 L751.6 482.8 L751.7 484.9Z" fill="none" stroke="#000" stroke-width="3.90" stroke-linejoin="round"/>
<rect x="6.2" y="488.2" width="1240.6" height="105.6" fill="#fff" stroke="#000" stroke-width="4.4"/>
<rect x="8.2" y="704.2" width="1238.6" height="182.6" fill="#fff" stroke="#000" stroke-width="4.4"/>
<rect x="8.7" y="975.2" width="1239.1" height="103.6" fill="#fff" stroke="#000" stroke-width="4.4"/>
<rect x="9.2" y="1244.2" width="1239.1" height="104.6" fill="#fff" stroke="#000" stroke-width="4.4"/>
<rect x="9.7" y="1478.2" width="1240.1" height="140.6" fill="#fff" stroke="#000" stroke-width="4.4"/>
<text class="b" x="548.1" y="449.9" textLength="162.7" lengthAdjust="spacingAndGlyphs">Уровень 5</text>
<text class="r" x="339.9" y="517.2" textLength="580.1" lengthAdjust="spacingAndGlyphs">Самый близкий уровень общения.</text>
<text class="r" x="71.8" y="563.2" textLength="1113.2" lengthAdjust="spacingAndGlyphs">Участники отношений делятся мыслями и чувствами друг о друге.</text>
<text class="b" x="550.0" y="679.3" textLength="161.0" lengthAdjust="spacingAndGlyphs">Уровень 4</text>
<text class="r" x="108.4" y="734.9" textLength="1042.5" lengthAdjust="spacingAndGlyphs">Более глубокие дружеские отношения. Участники отношений</text>
<text class="r" x="174.5" y="777.1" textLength="908.1" lengthAdjust="spacingAndGlyphs">делятся мыслями и чувствами, связанными со своими</text>
<text class="r" x="101.1" y="818.2" textLength="1057.9" lengthAdjust="spacingAndGlyphs">внутренними состояниями — радостями, горестями, страхами,</text>
<text class="r" x="312.5" y="860.3" textLength="638.1" lengthAdjust="spacingAndGlyphs">внутренней борьбой и тому подобное.</text>
<text class="b" x="549.9" y="953.5" textLength="163.1" lengthAdjust="spacingAndGlyphs">Уровень 3</text>
<text class="r" x="97.0" y="1004.6" textLength="1063.1" lengthAdjust="spacingAndGlyphs">Зарождающиеся дружеские отношения. Участники отношений</text>
<text class="r" x="26.0" y="1050.4" textLength="1205.2" lengthAdjust="spacingAndGlyphs">обсуждают чувства, возникшие в ответ на различные внешние события.</text>
<text class="b" x="551.5" y="1181.2" textLength="161.5" lengthAdjust="spacingAndGlyphs">Уровень 2</text>
<text class="r" x="25.5" y="1274.6" textLength="1209.9" lengthAdjust="spacingAndGlyphs">Начало дружеских отношений. Участники отношений делятся мыслями</text>
<text class="r" x="47.0" y="1320.4" textLength="1168.0" lengthAdjust="spacingAndGlyphs">и мнениями о внешних событиях, но еще не открывают своих чувств.</text>
<text class="b" x="552.1" y="1454.4" textLength="160.3" lengthAdjust="spacingAndGlyphs">Уровень 1</text>
<text class="r" x="71.6" y="1508.3" textLength="1120.8" lengthAdjust="spacingAndGlyphs">Участники отношений — просто знакомые, приятели: они говорят</text>
<text class="r" x="18.7" y="1553.4" textLength="1221.3" lengthAdjust="spacingAndGlyphs">о внешних событиях, не обмениваясь мнениями или вызванными этими</text>
<text class="r" x="32.5" y="1599.4" textLength="1195.4" lengthAdjust="spacingAndGlyphs">событиями эмоциями. «Разрешенные темы» — спорт, погода, новости.</text>
<path d="M301 843h4.5v2.2h-1.2v1h-2.2v-1h-1.1z" fill="#000"/>
</svg></body></html>
